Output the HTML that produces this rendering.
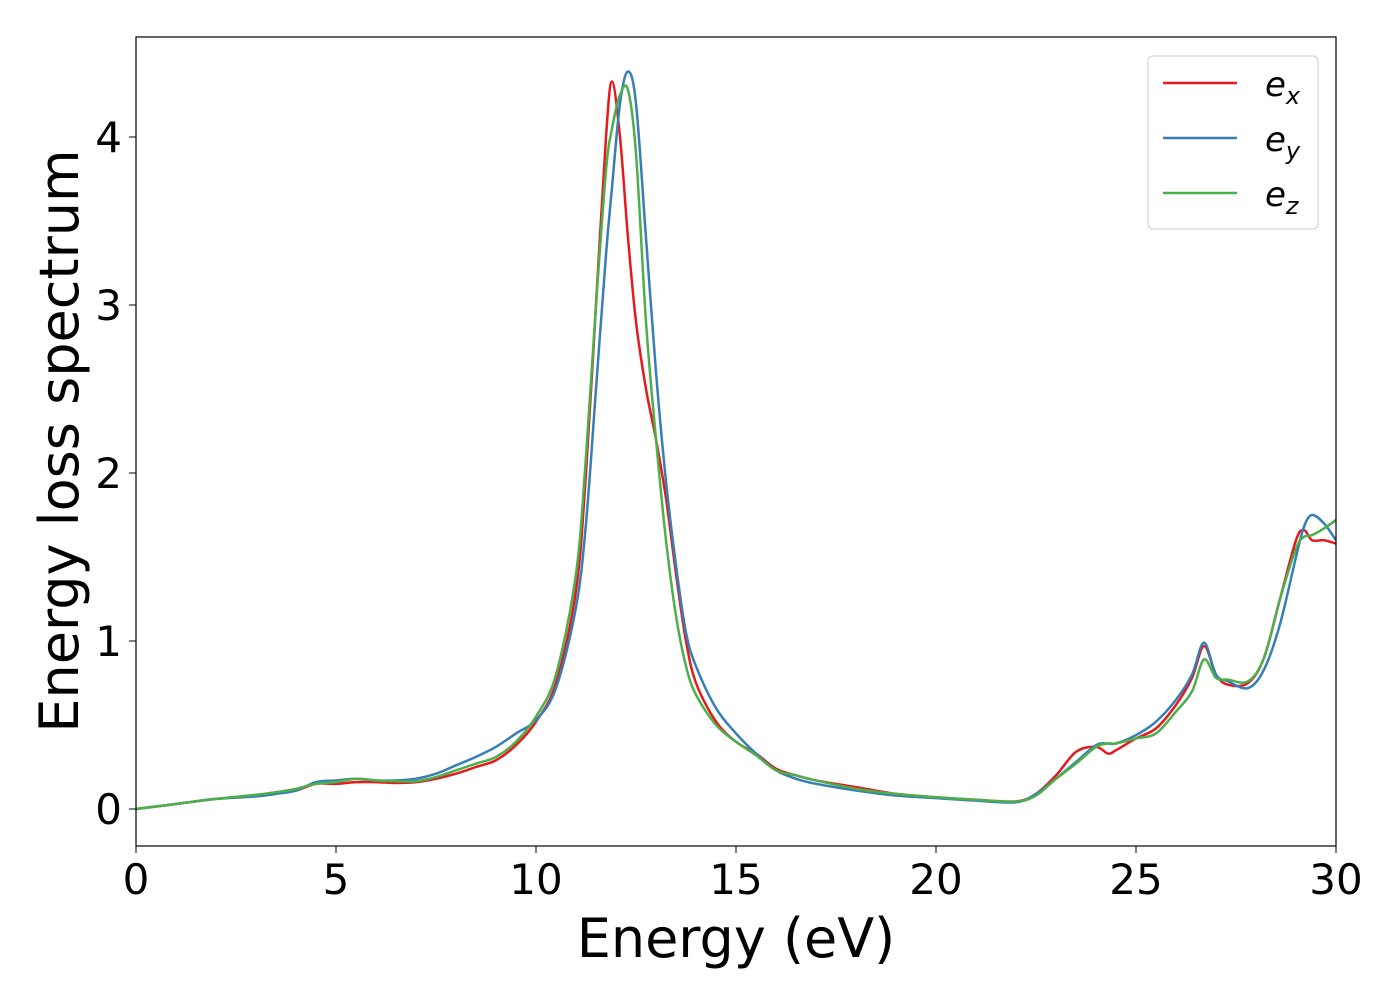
<!DOCTYPE html>
<html><head><meta charset="utf-8"><style>
body{margin:0;background:#fff;}
svg text{font-family:"DejaVu Sans","Liberation Sans",sans-serif;}
</style></head><body>
<svg id="chart" width="1400" height="1000" viewBox="0 0 1400 1000" xmlns="http://www.w3.org/2000/svg">
<rect width="1400" height="1000" fill="#fff"/>
<g id="series"></g>
<rect x="136" y="37" width="1200" height="809" fill="none" stroke="#000" stroke-width="1.2"/>
<g id="xticks"></g>
<g id="yticks"></g>
<text x="736" y="957" font-size="54" text-anchor="middle">Energy (eV)</text>
<text transform="translate(78,441) rotate(-90)" font-size="54" text-anchor="middle">Energy loss spectrum</text>
<g>
<rect x="1148" y="56" width="170" height="173" rx="5" fill="#fff" stroke="#ccc" stroke-width="1"/>
<line x1="1163" y1="83" x2="1237" y2="83" stroke="#e41a1c" stroke-width="2.5"/>
<text x="1265" y="96" font-size="34" font-style="italic">e<tspan font-size="24" dy="8">x</tspan></text>
<line x1="1163" y1="138" x2="1237" y2="138" stroke="#377eb8" stroke-width="2.5"/>
<text x="1265" y="151" font-size="34" font-style="italic">e<tspan font-size="24" dy="8">y</tspan></text>
<line x1="1163" y1="193" x2="1237" y2="193" stroke="#4daf4a" stroke-width="2.5"/>
<text x="1265" y="206" font-size="34" font-style="italic">e<tspan font-size="24" dy="8">z</tspan></text>
</g>
</svg>
<script>
const energies=[0,1,2,3,3.5,4,4.5,5,5.5,6,6.5,7,7.5,8,8.5,9,9.5,10,10.5,11,11.25,11.5,11.75,11.9,12.1,12.3,12.5,12.75,13,13.25,13.5,13.75,14,14.5,15,15.5,16,16.5,17,18,19,20,21,22,22.5,23,23.5,24,24.3,24.5,25,25.5,26,26.4,26.7,27,27.3,27.8,28.2,28.6,29,29.2,29.4,29.7,30];
const ex=[0,.03,.06,.08,.1,.11,.15,.15,.16,.16,.155,.16,.18,.21,.25,.29,.38,.52,.75,1.3,2.0,3.0,4.0,4.33,4.0,3.4,2.9,2.5,2.2,1.85,1.4,1.0,.75,.52,.40,.33,.24,.2,.17,.13,.09,.07,.055,.045,.09,.2,.34,.37,.33,.35,.42,.48,.62,.78,.97,.8,.74,.75,.9,1.25,1.6,1.66,1.6,1.6,1.58];
const ey=[0,.03,.06,.075,.09,.11,.16,.17,.18,.17,.17,.18,.21,.26,.31,.37,.45,.53,.72,1.2,1.7,2.5,3.3,3.7,4.2,4.39,4.2,3.4,2.6,1.95,1.45,1.05,.85,.6,.45,.33,.23,.18,.15,.11,.08,.065,.05,.04,.09,.18,.28,.38,.39,.39,.44,.52,.65,.8,.99,.8,.76,.72,.83,1.1,1.5,1.68,1.75,1.7,1.6];
const ez=[0,.03,.06,.085,.1,.12,.15,.16,.18,.17,.165,.165,.19,.23,.27,.31,.40,.55,.8,1.4,2.1,3.0,3.8,4.05,4.25,4.28,3.9,2.9,2.2,1.6,1.15,.85,.68,.5,.4,.32,.23,.2,.17,.12,.09,.07,.055,.045,.08,.18,.27,.37,.39,.39,.42,.45,.58,.7,.89,.78,.77,.76,.9,1.25,1.55,1.62,1.63,1.67,1.72];
const xTicks=[0,5,10,15,20,25,30];
const yTicks=[0,1,2,3,4];
const X=v=>136+v*40, Y=v=>809-v*168;
const NS="http://www.w3.org/2000/svg";
function path(ys){
  const p=energies.map((e,i)=>[X(e),Y(ys[i])]);
  let d="M"+p[0][0]+","+p[0][1];
  for(let i=0;i<p.length-1;i++){
    const p0=p[Math.max(0,i-1)],p1=p[i],p2=p[i+1],p3=p[Math.min(p.length-1,i+2)];
    const c1=[p1[0]+(p2[0]-p0[0])/6,p1[1]+(p2[1]-p0[1])/6];
    const c2=[p2[0]-(p3[0]-p1[0])/6,p2[1]-(p3[1]-p1[1])/6];
    d+=` C${c1[0]},${c1[1]} ${c2[0]},${c2[1]} ${p2[0]},${p2[1]}`;
  }
  return d;
}
const g=document.getElementById("series");
[["ex",ex,"#e41a1c"],["ey",ey,"#377eb8"],["ez",ez,"#4daf4a"]].forEach(([n,ys,c])=>{
  const el=document.createElementNS(NS,"path");
  el.setAttribute("d",path(ys));el.setAttribute("fill","none");el.setAttribute("stroke",c);el.setAttribute("stroke-width","2.5");
  
  
  g.appendChild(el);
});
const xt=document.getElementById("xticks");
xTicks.forEach(t=>{
  const l=document.createElementNS(NS,"line");
  l.setAttribute("x1",X(t));l.setAttribute("x2",X(t));l.setAttribute("y1",846);l.setAttribute("y2",853);l.setAttribute("stroke","#000");
  
  
  xt.appendChild(l);
  const tx=document.createElementNS(NS,"text");
  tx.setAttribute("x",X(t));tx.setAttribute("y",894);tx.setAttribute("font-size","42");tx.setAttribute("text-anchor","middle");tx.textContent=t;
  
  
  xt.appendChild(tx);
});
const yt=document.getElementById("yticks");
yTicks.forEach(t=>{
  const l=document.createElementNS(NS,"line");
  l.setAttribute("x1",129);l.setAttribute("x2",136);l.setAttribute("y1",Y(t));l.setAttribute("y2",Y(t));l.setAttribute("stroke","#000");
  
  
  yt.appendChild(l);
  const tx=document.createElementNS(NS,"text");
  tx.setAttribute("x",122);tx.setAttribute("y",Y(t)+15);tx.setAttribute("font-size","42");tx.setAttribute("text-anchor","end");tx.textContent=t;
  
  
  yt.appendChild(tx);
});
</script>
</body></html>
